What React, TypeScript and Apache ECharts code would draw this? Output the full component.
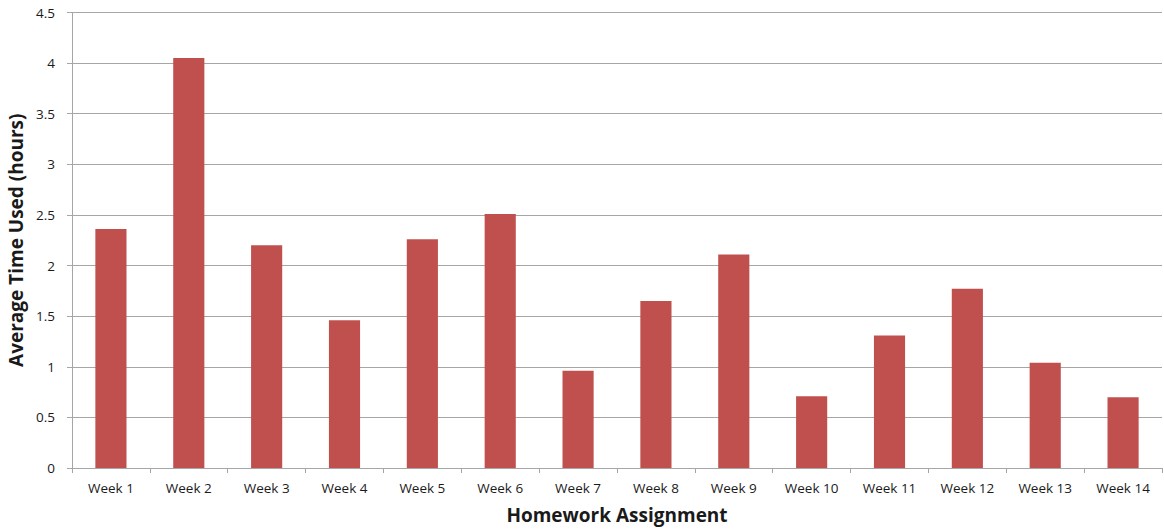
import React, { useEffect, useRef } from "react";
import * as echarts from "echarts";

const categories = ["Week 1", "Week 2", "Week 3", "Week 4", "Week 5", "Week 6", "Week 7", "Week 8", "Week 9", "Week 10", "Week 11", "Week 12", "Week 13", "Week 14"];
const avgHours = [2.36, 4.05, 2.2, 1.46, 2.26, 2.51, 0.96, 1.65, 2.11, 0.71, 1.31, 1.77, 1.04, 0.7];
const yMin = 0;
const yMax = 4.5;
const yInterval = 0.5;

const FONT = "'Open Sans', 'Liberation Sans', sans-serif";

export default function App() {
  const ref = useRef<HTMLDivElement>(null);
  useEffect(() => {
    document.body.style.margin = "0";
    if (!ref.current) return;
    const chart = echarts.init(ref.current, undefined, { renderer: "svg" });
    chart.setOption({
      animation: false,
      backgroundColor: "#ffffff",
      grid: { left: 72, right: 2, top: 12.5, bottom: 62, containLabel: false, outerBoundsMode: "none" },
      xAxis: {
        type: "category",
        data: categories,
        name: "Homework Assignment",
        nameLocation: "middle",
        nameGap: 37,
        nameTextStyle: { fontFamily: FONT, fontWeight: "bold", fontSize: 19, color: "#1a1a1a" },
        axisLine: { lineStyle: { color: "#a6a6a6", width: 1 } },
        axisTick: { show: true, alignWithLabel: false, length: 5, lineStyle: { color: "#a6a6a6" } },
        axisLabel: { fontFamily: FONT, fontSize: 13.5, color: "#1a1a1a", margin: 13 },
      },
      yAxis: {
        type: "value",
        min: yMin,
        max: yMax,
        interval: yInterval,
        name: "Average Time Used (hours)",
        nameLocation: "middle",
        nameGap: 43,
        nameTextStyle: { fontFamily: FONT, fontWeight: "bold", fontSize: 19, color: "#1a1a1a" },
        axisLine: { show: true, lineStyle: { color: "#a6a6a6", width: 1 } },
        axisTick: { show: true, length: 5, inside: false, lineStyle: { color: "#a6a6a6" } },
        axisLabel: { fontFamily: FONT, fontSize: 13.5, color: "#1a1a1a", margin: 17 },
        splitLine: { show: true, lineStyle: { color: "#a6a6a6", width: 1 } },
      },
      series: [
        {
          type: "bar",
          data: avgHours,
          barWidth: "40%",
          itemStyle: { color: "#c0504d" },
        },
      ],
    });
    return () => chart.dispose();
  }, []);
  return <div ref={ref} style={{ width: 1164, height: 530 }} />;
}
